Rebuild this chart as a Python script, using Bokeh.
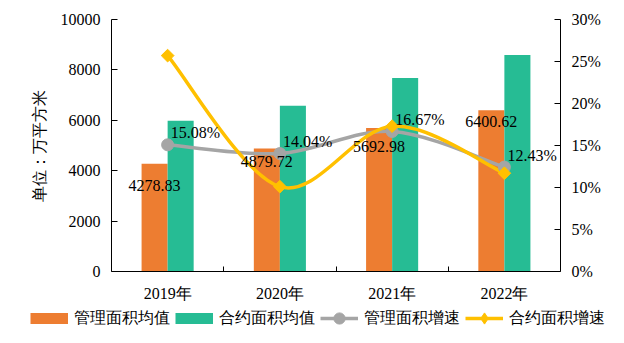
from bokeh.plotting import figure
from bokeh.models import (Range1d, LinearAxis, FixedTicker, PrintfTickFormatter,
                          CustomJSTickFormatter, Legend, LegendItem, ColumnDataSource)
from bokeh.core.properties import value
from bokeh.transform import dodge
from bokeh.embed import file_html
from bokeh.resources import INLINE
import math

# ---- data ----
years = ["2019年", "2020年", "2021年", "2022年"]
manage_avg = [4278.83, 4879.72, 5692.98, 6400.62]      # 管理面积均值
contract_avg = [5980, 6575, 7680, 8590]                # 合约面积均值
manage_growth = [15.08, 14.04, 16.67, 12.43]           # 管理面积增速 (%)
contract_growth = [25.7, 10.1, 17.3, 11.7]             # 合约面积增速 (%)
left_ticks = [0, 2000, 4000, 6000, 8000, 10000]
right_ticks = [0, 5, 10, 15, 20, 25, 30]
series_names = ["管理面积均值", "合约面积均值", "管理面积增速", "合约面积增速"]

FONT = "Liberation Serif"
ORANGE = "#ED7D31"
GREEN = "#26BC94"
GRAY = "#A5A5A5"
YELLOW = "#FFC000"
BW = 0.232

xs = [i + 0.5 for i in range(len(years))]
src = ColumnDataSource(dict(
    x=xs, manage=manage_avg, contract=contract_avg,
    mg=manage_growth, cg=contract_growth,
    mlab=[f"{v:.2f}" for v in manage_avg],
    glab=[f"{v:.2f}%" for v in manage_growth],
    mdy=[22, 13, 18, 11],
))

p = figure(width=624, height=304, x_range=Range1d(0, 4), y_range=Range1d(0, 10000),
           output_backend="svg", toolbar_location=None,
           min_border_left=111, min_border_right=64, min_border_top=19, min_border_bottom=0)
p.grid.visible = False
p.outline_line_color = None
p.extra_y_ranges = {"pct": Range1d(0, 30)}

# axes
p.xaxis.ticker = FixedTicker(ticks=xs, minor_ticks=[1, 2, 3])
p.xaxis.formatter = CustomJSTickFormatter(args=dict(labels=years),
                                          code="return labels[Math.floor(tick)]")
p.xaxis.major_tick_line_color = None
p.xaxis.minor_tick_in = 5
p.xaxis.minor_tick_out = 0
p.xaxis.minor_tick_line_color = "black"
p.xaxis.major_label_standoff = 7

p.yaxis.ticker = FixedTicker(ticks=left_ticks)
p.yaxis.formatter = PrintfTickFormatter(format="%d")
p.yaxis.major_tick_in = 6
p.yaxis.major_tick_out = 0
p.yaxis.minor_tick_line_color = None
p.yaxis.major_label_standoff = 11
p.yaxis.axis_label = "单位：万平方米"
p.yaxis.axis_label_standoff = 10

raxis = LinearAxis(y_range_name="pct", ticker=FixedTicker(ticks=right_ticks),
                   formatter=PrintfTickFormatter(format="%d%%"))
raxis.major_tick_in = 6
raxis.major_tick_out = 0
raxis.minor_tick_line_color = None
raxis.major_label_standoff = 11
p.add_layout(raxis, "right")

for ax in [p.xaxis[0], p.yaxis[0], raxis]:
    ax.axis_line_color = "black"
    ax.major_label_text_font = FONT
    ax.major_label_text_font_size = "16px"
    ax.major_label_text_color = "black"
    ax.axis_label_text_font = FONT
    ax.axis_label_text_font_size = "16px"
    ax.axis_label_text_font_style = "normal"
    ax.axis_label_text_color = "black"

# bars
p.vbar(x=dodge("x", -BW / 2), top="manage", width=BW, source=src,
       fill_color=ORANGE, line_color=None)
p.vbar(x=dodge("x", BW / 2), top="contract", width=BW, source=src,
       fill_color=GREEN, line_color=None)

# smoothed lines (bezier, Catmull-Rom style control points)
def bez(vals):
    n = len(vals)
    P = [(xs[i], vals[i]) for i in range(n)]
    d = dict(x0=[], y0=[], x1=[], y1=[], cx0=[], cy0=[], cx1=[], cy1=[])
    for i in range(n - 1):
        pm = P[max(i - 1, 0)]
        p0 = P[i]
        p1 = P[i + 1]
        p2 = P[min(i + 2, n - 1)]
        d["x0"].append(p0[0]); d["y0"].append(p0[1])
        d["x1"].append(p1[0]); d["y1"].append(p1[1])
        d["cx0"].append(p0[0] + (p1[0] - pm[0]) / 6)
        d["cy0"].append(p0[1] + (p1[1] - pm[1]) / 6)
        d["cx1"].append(p1[0] - (p2[0] - p0[0]) / 6)
        d["cy1"].append(p1[1] - (p2[1] - p0[1]) / 6)
    return ColumnDataSource(d)

p.bezier(x0="x0", y0="y0", x1="x1", y1="y1", cx0="cx0", cy0="cy0", cx1="cx1", cy1="cy1",
         source=bez(manage_growth), y_range_name="pct", line_color=GRAY, line_width=3.5)
p.bezier(x0="x0", y0="y0", x1="x1", y1="y1", cx0="cx0", cy0="cy0", cx1="cx1", cy1="cy1",
         source=bez(contract_growth), y_range_name="pct", line_color=YELLOW, line_width=3.5)

p.scatter(x="x", y="mg", source=src, y_range_name="pct", marker="circle", size=12,
          fill_color=GRAY, line_color=GRAY)
p.scatter(x="x", y="cg", source=src, y_range_name="pct", marker="square", size=9,
          angle=math.pi / 4, fill_color=YELLOW, line_color=YELLOW)

# labels
p.text(x=dodge("x", -BW / 2), y="manage", text="mlab", source=src, y_offset="mdy",
       text_align="center", text_baseline="middle", text_font=value(FONT),
       text_font_size="16px", text_color="black")
p.text(x="x", y="mg", text="glab", source=src, y_range_name="pct", x_offset=3, y_offset=-12,
       text_align="left", text_baseline="middle", text_font=value(FONT),
       text_font_size="16px", text_color="black")

# ---- legend strip (separate figure below) ----
lg = figure(width=624, height=39, x_range=Range1d(0, 4), y_range=Range1d(0, 30),
            output_backend="svg", toolbar_location=None, x_axis_type=None, y_axis_type=None,
            min_border=0)
lg.grid.visible = False
lg.outline_line_color = None
lsrc = ColumnDataSource(dict(x=xs, mg=manage_growth, cg=contract_growth))
r_ol = lg.line(x="x", y="mg", source=lsrc, line_color=ORANGE, line_width=11,
               line_cap="butt", visible=False)
r_grl = lg.line(x="x", y="cg", source=lsrc, line_color=GREEN, line_width=11,
                line_cap="butt", visible=False)
r_gl = lg.line(x="x", y="mg", source=lsrc, line_color=GRAY, line_width=3.5, visible=False)
r_gs = lg.scatter(x="x", y="mg", source=lsrc, marker="circle", size=12,
                  fill_color=GRAY, line_color=GRAY, visible=False)
r_yl = lg.line(x="x", y="cg", source=lsrc, line_color=YELLOW, line_width=3.5, visible=False)
r_ys = lg.scatter(x="x", y="cg", source=lsrc, marker="diamond", size=12,
                  fill_color=YELLOW, line_color=YELLOW, visible=False)

legend = Legend(items=[
    LegendItem(label=series_names[0], renderers=[r_ol]),
    LegendItem(label=series_names[1], renderers=[r_grl]),
    LegendItem(label=series_names[2], renderers=[r_gl, r_gs]),
    LegendItem(label=series_names[3], renderers=[r_yl, r_ys]),
], orientation="horizontal", location=(30, 11))
legend.glyph_width = 38
legend.glyph_height = 28
legend.label_standoff = 6
legend.spacing = 5
legend.padding = 0
legend.margin = 0
legend.border_line_color = None
legend.background_fill_alpha = 0
legend.inactive_fill_alpha = 0
legend.label_text_font = FONT
legend.label_text_font_size = "16px"
legend.label_text_color = "black"
lg.add_layout(legend)

open("out.html", "w").write(file_html([p, lg], INLINE))
